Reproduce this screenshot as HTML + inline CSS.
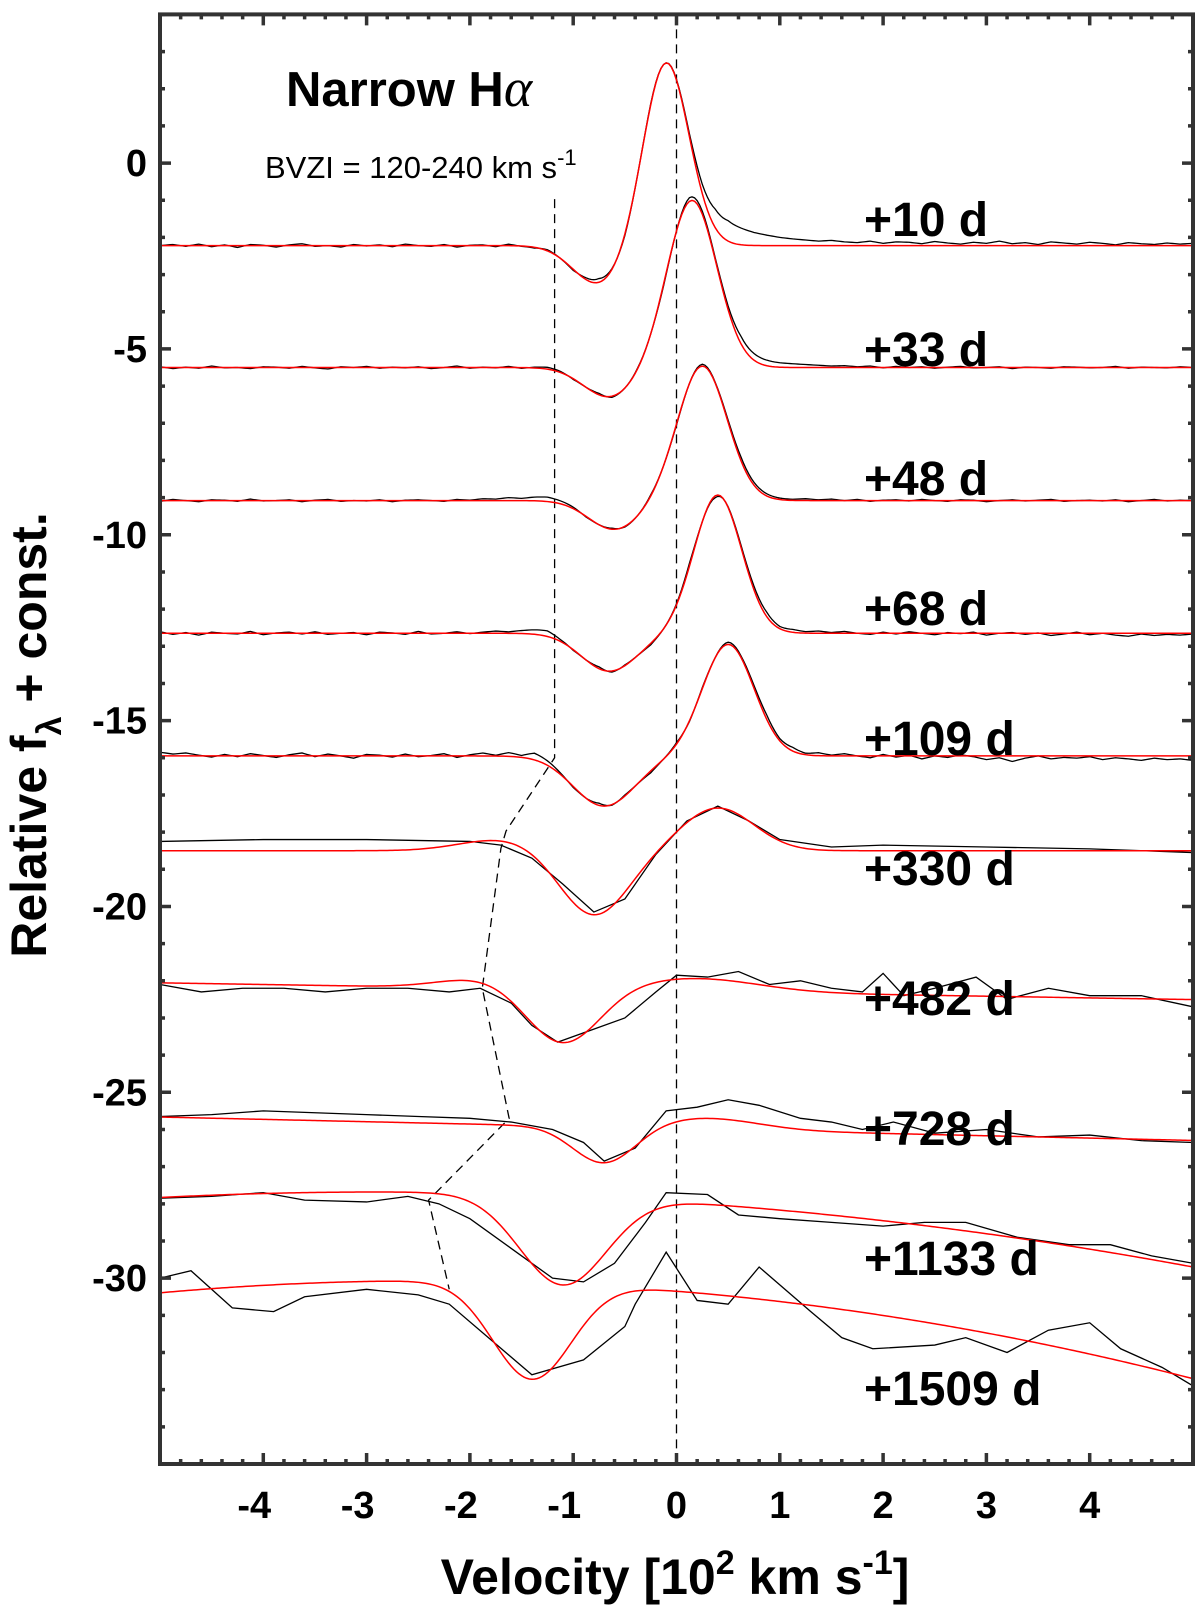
<!DOCTYPE html>
<html><head><meta charset="utf-8"><style>
body{margin:0;background:#fff;}
svg{display:block;font-family:"Liberation Sans",Arial,sans-serif;}
</style></head><body>
<svg id="chart" width="1200" height="1612" viewBox="0 0 1200 1612" xmlns="http://www.w3.org/2000/svg">
<g id="plot"></g>
<g id="axes"></g>
<text x="286" y="106" font-size="49" font-weight="bold">Narrow H<tspan font-family="Liberation Serif" font-style="italic" font-weight="normal" font-size="54">α</tspan></text>
<text x="265" y="178" font-size="31">BVZI = 120-240 km s<tspan dy="-13" font-size="22">-1</tspan></text>
<text x="675" y="1594" font-size="50" font-weight="bold" text-anchor="middle">Velocity [10<tspan dy="-20" font-size="34">2</tspan><tspan dy="20"> km s</tspan><tspan dy="-20" font-size="34">-1</tspan><tspan dy="20">]</tspan></text>
<text transform="translate(46,735) rotate(-90)" font-size="50" font-weight="bold" text-anchor="middle">Relative f<tspan dy="15" font-size="34">λ</tspan><tspan dy="-15"> + const.</tspan></text>
</svg>
<script>
const epochs=["+10 d","+33 d","+48 d","+68 d","+109 d","+330 d","+482 d","+728 d","+1133 d","+1509 d"];
// model parameters: baseline c,m,q ; emission E,ce,se ; absorption A,ca,sa ; second emission E2,ce2,se2
const baseC=[-2.22,-5.5,-9.08,-12.65,-15.95,-18.5,-22.28,-25.98,-27.95,-30.35];
const baseM=[0,0,0,0,0,0,-0.045,-0.063,-0.187,-0.231];
const baseQ=[0,0,0,0,0,0,0,0,-0.0326,-0.048];
const emisAmp=[4.95,4.5,3.62,3.72,3.0,1.15,0.35,0.3,0,0];
const emisCen=[-0.1,0.15,0.25,0.4,0.5,0.4,0.2,0.3,0,0];
const emisSig=[0.22,0.24,0.24,0.23,0.25,0.35,0.6,0.5,1,1];
const absAmp=[1.05,0.8,0.78,1.02,1.35,1.75,1.5,1.0,2.4,2.6];
const absCen=[-0.75,-0.65,-0.6,-0.65,-0.7,-0.8,-1.1,-0.7,-1.1,-1.4];
const absSig=[0.25,0.25,0.25,0.27,0.3,0.33,0.35,0.3,0.42,0.38];
const em2Amp=[0,0,0,0,0,0.3,0.25,0,0,0];
const em2Cen=[0,0,0,0,0,-1.7,-1.9,0,0,0];
const em2Sig=[1,1,1,1,1,0.4,0.4,1,1,1];
// residuals (hundredths) for high-res early spectra, sampled evenly over -5..5
const res10=[0,3,-2,4,-3,2,-5,3,1,-4,2,5,-2,0,-4,3,-1,2,-3,4,0,-2,3,-4,1,2,-3,4,-1,-2,3,0,-3,5,10,2,-4,0,3,0,2,8,25,50,55,45,35,28,22,18,15,12,14,10,8,12,6,10,9,5,11,7,4,9,6,12,5,8,3,10,7,4,9,6,2,8,5,3,7,4,6];
const res33=[2,-3,1,-2,4,-1,0,-3,2,1,-2,3,-1,-4,2,0,3,-2,1,-1,2,-3,0,4,-2,1,-1,3,-2,2,5,3,-2,0,4,-3,0,2,0,-5,0,10,8,5,10,20,18,15,12,10,8,6,4,5,2,4,-1,3,0,2,-2,1,3,-1,0,2,-3,1,0,-2,2,1,-1,0,3,-2,1,0,-1,2,0];
const res48=[-2,3,0,-3,2,1,-2,4,-1,0,2,-3,1,3,-2,0,-1,2,-3,1,2,0,-2,3,1,5,4,8,6,10,12,8,4,-2,0,3,-2,0,3,0,-3,0,5,2,6,10,8,6,4,3,5,2,4,0,3,-2,1,2,-1,3,0,-2,2,1,-3,0,2,-1,1,3,-2,0,1,-1,2,-3,0,3,-1,1,0];
const res68=[4,-3,2,-5,3,0,-2,5,-4,1,3,-2,4,-3,0,2,-4,3,1,-3,5,-2,0,4,-1,3,6,4,8,12,15,5,-2,0,5,-3,2,0,-4,0,3,8,0,-5,2,6,10,12,6,8,4,6,2,5,0,-3,3,-2,4,0,-4,2,-1,3,-5,0,2,-3,1,-6,-2,3,-4,0,-5,-8,-2,-6,-3,-5,-2];
const res109=[10,5,8,2,-3,4,-2,6,1,-4,3,8,-2,5,0,-6,4,2,-3,5,-2,1,6,-4,3,8,2,10,5,18,12,4,-3,0,6,-2,3,0,-5,0,4,-2,3,0,6,4,8,12,6,10,4,8,2,6,0,-5,4,-3,2,-8,0,-4,3,-2,-10,-5,-15,-6,0,-8,-4,-6,-2,-10,-5,-8,-12,-6,-10,-8,-12];
const residuals=[res10,res33,res48,res68,res109];
// coarse observed late spectra
const v330=[-5,-4,-3,-2,-1.7,-1.4,-1.1,-0.8,-0.5,-0.2,0.1,0.4,0.7,1,1.5,2,3,4,5];
const f330=[-18.25,-18.2,-18.2,-18.25,-18.35,-18.7,-19.4,-20.15,-19.8,-18.6,-17.7,-17.3,-17.7,-18.2,-18.4,-18.35,-18.4,-18.45,-18.55];
const v482=[-5,-4.6,-4.2,-3.8,-3.4,-3,-2.6,-2.2,-1.9,-1.6,-1.4,-1.15,-0.8,-0.5,-0.2,0,0.3,0.6,0.9,1.2,1.5,1.8,2,2.2,2.5,2.9,3.2,3.6,4,4.5,5];
const f482=[-22.1,-22.3,-22.2,-22.2,-22.3,-22.2,-22.2,-22.3,-22.2,-22.6,-23.2,-23.65,-23.3,-23.0,-22.3,-21.85,-21.9,-21.75,-22.1,-22.0,-22.2,-22.3,-21.8,-22.4,-22.2,-21.9,-22.5,-22.2,-22.4,-22.4,-22.7];
const v728=[-5,-4.5,-4,-3.5,-3,-2.5,-2,-1.6,-1.2,-0.9,-0.7,-0.4,-0.1,0.2,0.5,0.8,1.2,1.5,1.8,2.1,2.5,3,3.5,4,4.5,5];
const f728=[-25.65,-25.6,-25.5,-25.55,-25.6,-25.65,-25.7,-25.8,-26.0,-26.35,-26.85,-26.5,-25.5,-25.4,-25.2,-25.35,-25.7,-25.8,-26.0,-25.8,-26.1,-26.0,-26.2,-26.15,-26.3,-26.35];
const v1133=[-5,-4.5,-4,-3.6,-3,-2.6,-2.3,-2,-1.6,-1.2,-0.9,-0.6,-0.3,-0.1,0.3,0.6,1,1.5,2,2.4,2.8,3.3,3.8,4.2,4.6,5];
const f1133=[-27.85,-27.8,-27.7,-27.9,-27.95,-27.8,-28.0,-28.4,-29.2,-30.0,-30.1,-29.6,-28.5,-27.7,-27.75,-28.3,-28.4,-28.5,-28.6,-28.5,-28.5,-28.9,-29.1,-29.1,-29.4,-29.6];
const v1509=[-5,-4.7,-4.3,-3.9,-3.6,-3,-2.5,-2.2,-1.4,-0.9,-0.5,-0.4,-0.1,0.2,0.5,0.8,1.3,1.6,1.9,2.5,2.8,3.2,3.6,4.0,4.3,4.7,5];
const f1509=[-30.0,-29.8,-30.8,-30.9,-30.5,-30.3,-30.45,-30.7,-32.6,-32.2,-31.3,-30.7,-29.3,-30.6,-30.7,-29.7,-30.9,-31.6,-31.9,-31.8,-31.6,-32.0,-31.4,-31.2,-31.9,-32.4,-32.9];
const lateV=[v330,v482,v728,v1133,v1509];
const lateF=[f330,f482,f728,f1133,f1509];
// BVZI connector
const connV=[-1.18,-1.18,-1.65,-1.70,-1.88,-1.62,-2.4,-2.2];
const connF=[-0.97,-16.0,-17.97,-18.44,-22.2,-25.7,-27.9,-30.3];
const xTicks=[-4,-3,-2,-1,0,1,2,3,4];
const yTicks=[0,-5,-10,-15,-20,-25,-30];
const labelY=[236,366,495,625,755,885,1015,1145,1275,1405];

const NS="http://www.w3.org/2000/svg";
const X0=160,X1=1193,Y0=14.4,Y1=1464,VMIN=-5,VMAX=5,FMIN=-35,FMAX=4;
const sx=v=>X0+(v-VMIN)/(VMAX-VMIN)*(X1-X0);
const sy=f=>Y0+(FMAX-f)/(FMAX-FMIN)*(Y1-Y0);
const plot=document.getElementById('plot'),axes=document.getElementById('axes'),svg=document.getElementById('chart');
function mk(tag,attrs,parent){const e=document.createElementNS(NS,tag);for(const k in attrs)e.setAttribute(k,attrs[k]);parent.appendChild(e);return e;}
const g=(v,c,s)=>Math.exp(-(v-c)*(v-c)/(2*s*s));
function model(i,v){return baseC[i]+baseM[i]*v+baseQ[i]*v*v+emisAmp[i]*g(v,emisCen[i],emisSig[i])-absAmp[i]*g(v,absCen[i],absSig[i])+em2Amp[i]*g(v,em2Cen[i],em2Sig[i]);}
function resid(arr,v){const t=(v-VMIN)/(VMAX-VMIN)*(arr.length-1);const k=Math.min(arr.length-2,Math.floor(t));const u=t-k;return (arr[k]*(1-u)+arr[k+1]*u)/100;}
const clip=mk('clipPath',{id:'pc'},svg);mk('rect',{x:X0,y:Y0,width:X1-X0,height:Y1-Y0},clip);
plot.setAttribute('clip-path','url(#pc)');
const zl=mk('line',{x1:sx(0),x2:sx(0),y1:Y0,y2:Y1,stroke:'#000','stroke-width':1.3,'stroke-dasharray':'9,6'},plot);


const cp=mk('polyline',{points:connV.map((v,k)=>sx(v)+','+sy(connF[k])).join(' '),fill:'none',stroke:'#000','stroke-width':1.3,'stroke-dasharray':'9,6'},plot);


epochs.forEach((ep,i)=>{
  let obs;
  if(i<5){obs=[];for(let k=0;k<=400;k++){const v=VMIN+k*(VMAX-VMIN)/400;obs.push(sx(v)+','+sy(model(i,v)+resid(residuals[i],v)));}}
  else{const vv=lateV[i-5],ff=lateF[i-5];obs=vv.map((v,k)=>sx(v)+','+sy(ff[k]));}
  const o=mk('polyline',{points:obs.join(' '),fill:'none',stroke:'#000','stroke-width':1.3},plot);
  
  
  const m=[];for(let k=0;k<=400;k++){const v=VMIN+k*(VMAX-VMIN)/400;m.push(sx(v)+','+sy(model(i,v)));}
  const r=mk('polyline',{points:m.join(' '),fill:'none',stroke:'#f00','stroke-width':1.5},plot);
  
  
  const t=mk('text',{x:864,y:labelY[i],'font-size':48,'font-weight':'bold'},svg);
  t.textContent=ep;
  
  
});
const fr=mk('rect',{x:X0,y:Y0,width:X1-X0,height:Y1-Y0,fill:'none',stroke:'#333','stroke-width':4},axes);


let tk='';
for(let k=-25;k<=25;k++){const v=k/5,x=sx(v),L=(k%5===0)?11:5;tk+=`M${x},${Y1}v${-L}M${x},${Y0}v${L}`;}
for(let f=-35;f<=4;f++){const y=sy(f),L=(f%5===0)?11:5;tk+=`M${X0},${y}h${L}M${X1},${y}h${-L}`;}
const tp=mk('path',{d:tk,stroke:'#333','stroke-width':3.5,fill:'none'},axes);


xTicks.forEach(v=>{const t=mk('text',{x:sx(v)-(v<0?9:0),y:1518,'font-size':38,'font-weight':'bold','text-anchor':'middle'},axes);t.textContent=String(v);

});
yTicks.forEach(f=>{const t=mk('text',{x:147,y:sy(f)+13,'font-size':38,'font-weight':'bold','text-anchor':'end'},axes);t.textContent=String(f);

});
</script>
</body></html>
